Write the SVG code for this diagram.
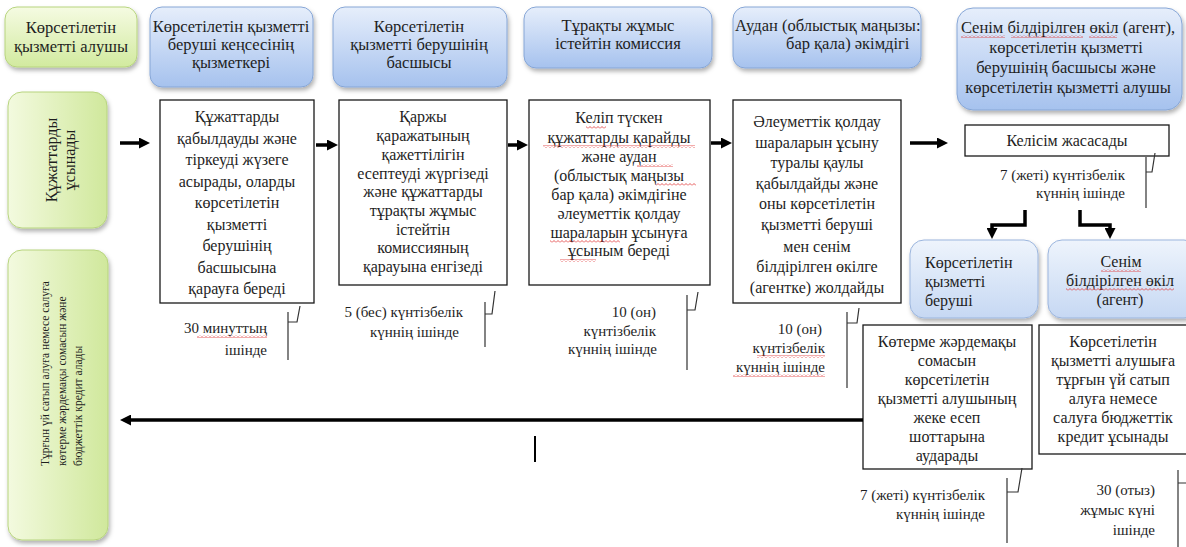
<svg xmlns="http://www.w3.org/2000/svg" width="1186" height="547" viewBox="0 0 1186 547">
<defs>
  <linearGradient id="gBlue" x1="0" y1="0" x2="0" y2="1">
    <stop offset="0" stop-color="#e6eefb"/>
    <stop offset="1" stop-color="#a6c2ee"/>
  </linearGradient>
  <linearGradient id="gBlueLight" x1="0" y1="0" x2="0" y2="1">
    <stop offset="0" stop-color="#eef4fc"/>
    <stop offset="1" stop-color="#c6d8f3"/>
  </linearGradient>
  <linearGradient id="gGreen" x1="0" y1="0" x2="0" y2="1">
    <stop offset="0" stop-color="#f5fbe2"/>
    <stop offset="1" stop-color="#d2ea9f"/>
  </linearGradient>
  <linearGradient id="gGreenH" x1="0" y1="0" x2="1" y2="0">
    <stop offset="0" stop-color="#f3fadf"/>
    <stop offset="1" stop-color="#d0e89c"/>
  </linearGradient>
  <filter id="sh" x="-10%" y="-10%" width="130%" height="130%">
    <feDropShadow dx="1.5" dy="3" stdDeviation="2" flood-color="#000" flood-opacity="0.3"/>
  </filter>
  <marker id="ah" markerUnits="userSpaceOnUse" markerWidth="11" markerHeight="11" refX="5" refY="5.5" orient="auto">
    <path d="M0,0 L11,5.5 L0,11 z" fill="#000"/>
  </marker>
  <pattern id="sq" patternUnits="userSpaceOnUse" width="4" height="3">
    <path d="M0,2.5 L2,0.5 L4,2.5" fill="none" stroke="#e03030" stroke-width="0.8"/>
  </pattern>
</defs>
<style>
  text { font-family: "Liberation Serif", "DejaVu Serif", serif; fill: #1e1e1e; }
  .h { font-size: 16.5px; text-anchor: middle; }
  .b { font-size: 16px; text-anchor: middle; }
  .t { font-size: 15px; text-anchor: end; }
  .hb { fill: url(#gBlue); stroke: #86a6d6; stroke-width: 1; filter: url(#sh); }
  .lb { fill: url(#gBlueLight); stroke: #9bb5dd; stroke-width: 1; filter: url(#sh); }
  .gb { fill: url(#gGreen); stroke: #b7d47e; stroke-width: 1; filter: url(#sh); }
  .gv { fill: url(#gGreenH); stroke: #b7d47e; stroke-width: 1; filter: url(#sh); }
  .pb { fill: #fff; stroke: #1a1a1a; stroke-width: 1.3; }
  .ar { stroke: #000; stroke-width: 3.5; fill: none; marker-end: url(#ah); }
  .br { stroke: #333; stroke-width: 1.2; fill: none; }
  .sq { fill: url(#sq); }
</style>

<!-- header row -->
<g id="h-recipient">
  <rect class="gb" x="5" y="7" width="132" height="60" rx="12"/>
  <text class="h"><tspan x="71" y="33">Көрсетілетін</tspan><tspan x="71" y="52">қызметті алушы</tspan></text>
</g>
<g id="h-office">
  <rect class="hb" x="150" y="7" width="163" height="80" rx="12"/>
  <text class="h"><tspan x="231" y="32">Көрсетілетін қызметті</tspan><tspan x="231" y="50">беруші кеңсесінің</tspan><tspan x="231" y="68">қызметкері</tspan></text>
</g>
<g id="h-head">
  <rect class="hb" x="333" y="7" width="174" height="80" rx="12"/>
  <text class="h"><tspan x="419" y="32">Көрсетілетін</tspan><tspan x="419" y="50">қызметті берушінің</tspan><tspan x="419" y="68">басшысы</tspan></text>
</g>
<g id="h-commission">
  <rect class="hb" x="524" y="7" width="188" height="61" rx="12"/>
  <text class="h"><tspan x="618" y="31">Тұрақты жұмыс</tspan><tspan x="618" y="49">істейтін комиссия</tspan></text>
</g>
<g id="h-akimat">
  <rect class="hb" x="733" y="7" width="188" height="61" rx="12"/>
  <text class="h" style="text-anchor:start"><tspan x="735" y="31">Аудан (облыстық маңызы:</tspan><tspan x="786" y="49">бар қала)  әкімдігі</tspan></text>
</g>
<g id="h-agent">
  <rect class="hb" x="957" y="8" width="225" height="102" rx="16"/>
  <text class="h"><tspan x="1068" y="33">Сенім білдірілген өкіл (агент),</tspan><tspan x="1066" y="53">көрсетілетін қызметті</tspan><tspan x="1066" y="73">берушінің басшысы және</tspan><tspan x="1068" y="93">көрсетілетін қызметті алушы</tspan></text>
  <rect class="sq" x="961" y="35" width="44" height="3"/>
  <rect class="sq" x="1011" y="35" width="72" height="3"/>
  <rect class="sq" x="1089" y="35" width="28" height="3"/>
</g>

<!-- left column -->
<g id="submit">
  <rect class="gv" x="8" y="92" width="99" height="136" rx="14"/>
  <text class="b" transform="translate(52,160) rotate(-90)"><tspan x="0" y="5">Құжаттарды</tspan><tspan x="0" y="23">ұсынады</tspan></text>
</g>
<g id="receive">
  <rect class="gv" x="8" y="250" width="100" height="290" rx="14"/>
  <text style="font-size:11.5px" transform="translate(44,466) rotate(-90)"><tspan x="0" y="5">Тұрғын үй сатып алуға немесе салуға</tspan><tspan x="0" y="22">көтерме жәрдемақы сомасын және</tspan><tspan x="0" y="38">бюджеттік кредит алады</tspan></text>
</g>

<!-- process boxes -->
<g id="step1">
  <rect class="pb" x="160" y="100" width="154" height="203"/>
  <text class="b"><tspan x="237" y="122">Құжаттарды</tspan><tspan x="237" y="143.5">қабылдауды және</tspan><tspan x="237" y="165">тіркеуді  жүзеге</tspan><tspan x="237" y="186.5">асырады, оларды</tspan><tspan x="237" y="208">көрсетілетін</tspan><tspan x="237" y="229.5">қызметті</tspan><tspan x="237" y="251">берушінің</tspan><tspan x="237" y="272.5">басшысына</tspan><tspan x="237" y="294">қарауға береді</tspan></text>
</g>
<g id="step2">
  <rect class="pb" x="339" y="100" width="168" height="185"/>
  <text class="b"><tspan x="423" y="122">Қаржы</tspan><tspan x="423" y="141">қаражатының</tspan><tspan x="423" y="159.5">қажеттілігін</tspan><tspan x="423" y="178.5">есептеуді жүргізеді</tspan><tspan x="423" y="197">және құжаттарды</tspan><tspan x="423" y="215.5">тұрақты жұмыс</tspan><tspan x="423" y="234.5">істейтін</tspan><tspan x="423" y="253">комиссияның</tspan><tspan x="423" y="272">қарауына енгізеді</tspan></text>
</g>
<g id="step3">
  <rect class="pb" x="529" y="100" width="181" height="185"/>
  <text class="b"><tspan x="619" y="123">Келіп түскен</tspan><tspan x="619" y="142.5">құжаттарды қарайды</tspan><tspan x="619" y="161.5">және аудан</tspan><tspan x="619" y="180.5">(облыстық   маңызы</tspan><tspan x="619" y="199.5">бар қала) әкімдігіне</tspan><tspan x="619" y="218.5">әлеуметтік қолдау</tspan><tspan x="619" y="237.5">шараларын ұсынуға</tspan><tspan x="619" y="256">ұсыным   береді</tspan></text>
  <rect class="sq" x="586" y="126" width="20" height="3"/>
  <rect class="sq" x="543" y="145" width="152" height="3"/>
  <rect class="sq" x="637" y="164" width="36" height="3"/>
  <rect class="sq" x="656" y="183" width="40" height="3"/>
  <rect class="sq" x="550" y="240" width="70" height="3"/>
  <rect class="sq" x="560" y="259" width="36" height="3"/>
</g>
<g id="step4">
  <rect class="pb" x="733" y="100" width="168" height="203"/>
  <text class="b"><tspan x="817" y="127">Әлеуметтік қолдау</tspan><tspan x="817" y="147.5">шараларын ұсыну</tspan><tspan x="817" y="168">туралы қаулы</tspan><tspan x="817" y="188.5">қабылдайды және</tspan><tspan x="817" y="209">оны көрсетілетін</tspan><tspan x="817" y="230">қызметті беруші</tspan><tspan x="817" y="251.5">мен сенім</tspan><tspan x="817" y="272">білдірілген өкілге</tspan><tspan x="817" y="293">(агентке) жолдайды</tspan></text>
</g>
<g id="step5">
  <rect class="pb" x="965" y="125" width="204" height="31"/>
  <text class="b"><tspan x="1067" y="146">Келісім жасасады</tspan></text>
</g>
<g id="provider">
  <rect class="lb" x="910" y="240" width="128" height="78" rx="14"/>
  <text class="b" style="text-anchor:start"><tspan x="925" y="268">Көрсетілетін</tspan><tspan x="925" y="287">қызметті</tspan><tspan x="925" y="306">беруші</tspan></text>
</g>
<g id="agent">
  <rect class="lb" x="1048" y="240" width="150" height="78" rx="14"/>
  <text class="b"><tspan x="1121" y="267">Сенім</tspan><tspan x="1120" y="286">білдірілген өкіл</tspan><tspan x="1120" y="305">(агент)</tspan></text>
  <rect class="sq" x="1101" y="269" width="40" height="3"/>
  <rect class="sq" x="1066" y="288" width="108" height="3"/>
</g>
<g id="step6">
  <rect class="pb" x="863" y="325" width="169" height="144"/>
  <text class="b"><tspan x="947" y="347">Көтерме жәрдемақы</tspan><tspan x="947" y="366">сомасын</tspan><tspan x="947" y="385">көрсетілетін</tspan><tspan x="947" y="404">қызметті алушының</tspan><tspan x="947" y="423">жеке есеп</tspan><tspan x="947" y="442">шоттарына</tspan><tspan x="947" y="461">аударады</tspan></text>
</g>
<g id="step7">
  <rect class="pb" x="1039" y="325" width="160" height="129"/>
  <text class="b"><tspan x="1113" y="347">Көрсетілетін</tspan><tspan x="1113" y="366">қызметті алушыға</tspan><tspan x="1113" y="385">тұрғын үй сатып</tspan><tspan x="1113" y="404">алуға немесе</tspan><tspan x="1113" y="423">салуға бюджеттік</tspan><tspan x="1113" y="442">кредит ұсынады</tspan></text>
</g>

<!-- timing labels -->
<g id="time1">
  <text class="t"><tspan x="267" y="333">30 минуттың</tspan><tspan x="267" y="355">ішінде</tspan></text>
  <rect class="sq" x="197" y="335" width="70" height="3"/>
  <path class="br" d="M288,312 V360 M288,322 H297 L300,306"/>
</g>
<g id="time2">
  <text class="t"><tspan x="463" y="317">5 (бес) күнтізбелік</tspan><tspan x="459" y="337">күннің ішінде</tspan></text>
  <path class="br" d="M485,302 V347 M485,314 H492 L495,291"/>
</g>
<g id="time3">
  <text class="t"><tspan x="656" y="317">10 (он)</tspan><tspan x="656" y="336">күнтізбелік</tspan><tspan x="657" y="354">күннің  ішінде</tspan></text>
  <path class="br" d="M687,295 V370 M687,310 H695 L698,292"/>
</g>
<g id="time4">
  <text class="t"><tspan x="822" y="334">10 (он)</tspan><tspan x="825" y="353">күнтізбелік</tspan><tspan x="825" y="372">күннің ішінде</tspan></text>
  <rect class="sq" x="757" y="355" width="68" height="3"/>
  <rect class="sq" x="733" y="374" width="92" height="3"/>
  <path class="br" d="M847,312 V388 M847,323 H857 L859,308"/>
</g>
<g id="time5">
  <text class="t"><tspan x="1125" y="180">7 (жеті) күнтізбелік</tspan><tspan x="1125" y="198">күннің ішінде</tspan></text>
  <path class="br" d="M1146,157 V208 M1146,172 H1152 L1155,153"/>
</g>
<g id="time6">
  <text class="t"><tspan x="985" y="500">7 (жеті) күнтізбелік</tspan><tspan x="985" y="519">күннің ішінде</tspan></text>
  <path class="br" d="M1007,478 V543 M1007,492 H1018 L1022,468"/>
</g>
<g id="time7">
  <text class="t"><tspan x="1155" y="495">30 (отыз)</tspan><tspan x="1155" y="515">жұмыс күні</tspan><tspan x="1155" y="535">ішінде</tspan></text>
  <path class="br" d="M1178,470 V547 M1178,483 H1186"/>
</g>

<!-- connectors -->
<g id="connectors">
  <line class="ar" x1="120" y1="143" x2="144" y2="143"/>
  <line class="ar" x1="316" y1="145" x2="332" y2="145"/>
  <line class="ar" x1="508" y1="145" x2="522" y2="145"/>
  <line class="ar" x1="711" y1="143" x2="726" y2="143"/>
  <line class="ar" x1="910" y1="143" x2="942" y2="143"/>
  <polyline class="ar" points="1025,210 1025,225 992,225 992,233"/>
  <polyline class="ar" points="1080,210 1080,225 1110,225 1110,233"/>
  <line class="ar" x1="863" y1="420" x2="126" y2="420"/>
  <line x1="535" y1="436" x2="535" y2="462" stroke="#000" stroke-width="2"/>
</g>
</svg>
